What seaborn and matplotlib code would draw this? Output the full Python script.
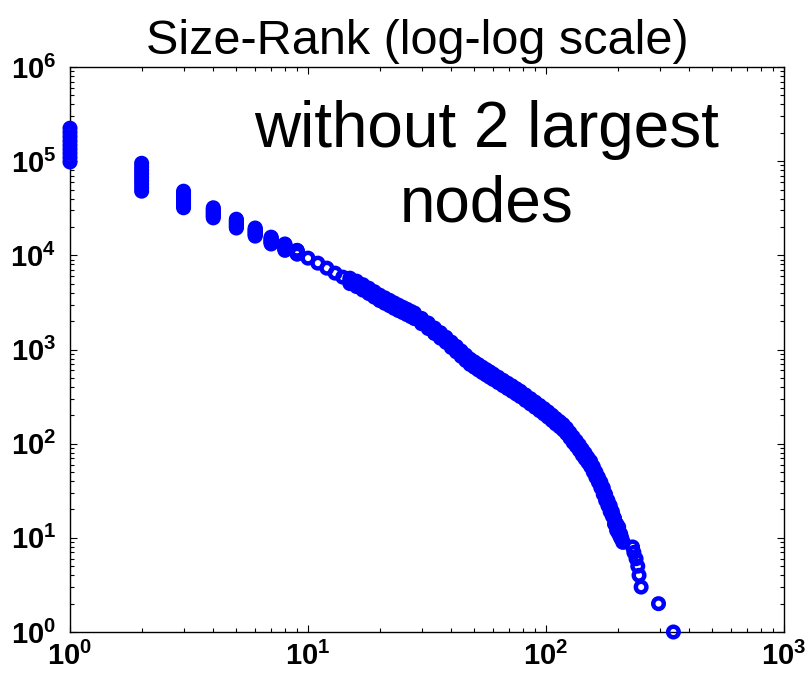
import matplotlib
matplotlib.use("Agg")
import matplotlib.pyplot as plt
from matplotlib.ticker import LogLocator, NullFormatter
import pandas as pd
import seaborn as sns

# Top nine ranks: size of the node at that rank in nine snapshots
head_ranks = [1, 2, 3, 4, 5, 6, 7, 8, 9]
snapshot_1 = [224000, 95000, 48000, 32000, 24200, 19500, 15600, 13200, 11300]
snapshot_2 = [202000, 87000, 45600, 31000, 23600, 19000, 15300, 12900, 11200]
snapshot_3 = [182000, 80000, 43400, 30100, 22900, 18500, 14900, 12700, 11100]
snapshot_4 = [164000, 73600, 41300, 29200, 22300, 18100, 14600, 12400, 10900]
snapshot_5 = [148000, 67600, 39200, 28300, 21700, 17600, 14300, 12200, 10800]
snapshot_6 = [134000, 62000, 37300, 27500, 21100, 17200, 14000, 12000, 10700]
snapshot_7 = [121000, 57000, 35400, 26600, 20600, 16800, 13700, 11700, 10600]
snapshot_8 = [109000, 52300, 33700, 25800, 20000, 16400, 13500, 11500, 10400]
snapshot_9 = [98000, 48000, 32000, 25000, 19500, 16000, 13200, 11300, 10300]

# Main body of the size-rank curve
body_ranks = [10, 11, 12, 13, 14, 15, 16, 17, 18, 19, 20, 21, 22, 23, 24, 25, 26, 27,
              28, 29, 30, 31, 32, 33, 34, 35, 36, 37, 38, 39, 40, 42, 44, 46, 48, 50,
              52, 54, 56, 58, 60, 62, 64, 66, 68, 70, 72, 74, 76, 78, 80, 83, 86, 89,
              92, 95, 98, 101, 104, 107, 110, 113, 116, 119, 122, 125, 128, 131, 134,
              137, 140, 143, 146, 149, 152, 155, 158, 160, 162, 164, 166, 168, 170,
              172, 174, 176, 178, 180, 182, 184, 186, 188, 190, 192, 194, 196, 198,
              200, 202, 204, 206, 208, 210]
body_sizes = [9340, 8260, 7310, 6470, 5870, 5450, 5070, 4650, 4270, 3910, 3600, 3370,
              3170, 2980, 2820, 2680, 2550, 2430, 2320, 2170, 2040, 1920, 1815, 1710,
              1610, 1520, 1435, 1360, 1290, 1215, 1145, 1025, 920, 830, 753, 704, 659,
              619, 584, 552, 523, 496, 472, 449, 428, 409, 391, 374, 359, 344, 328, 306,
              287, 269, 253, 238, 225, 212, 199, 187, 176, 167, 158, 149, 139, 128, 118,
              110, 102, 94, 87, 81, 75, 70, 65, 60, 54, 51, 47, 45, 42, 39, 37, 34, 32,
              29, 27, 25, 24, 22, 21, 19, 18, 17, 16, 14, 14, 13, 12, 11, 10, 10, 9]

# Upper and lower edges of the band traced by the other snapshots
edge_ranks = [15, 16, 17, 18, 19, 20, 21, 22, 23, 24, 25, 26, 27, 28, 30, 32, 34, 36,
              38, 40, 42, 44, 46, 48, 50, 52, 54, 56, 58, 60, 63, 66, 69, 72, 75, 78,
              82, 86, 90, 94, 98, 102, 106, 110, 114, 118, 122, 126, 130, 134, 138,
              142, 146, 150, 154, 158, 162, 166, 170, 174, 178, 182, 186, 190, 194,
              198, 202, 206]
upper_sizes = [5720, 5320, 4880, 4480, 4110, 3780, 3540, 3330, 3130, 2960, 2810, 2680,
               2550, 2440, 2140, 1910, 1690, 1510, 1350, 1200, 1080, 966, 872, 791,
               739, 692, 650, 613, 580, 549, 508, 471, 439, 411, 384, 361, 329, 301,
               277, 255, 236, 218, 201, 185, 172, 160, 146, 131, 118, 107, 97, 87, 79,
               71, 65, 57, 50, 44, 39, 34, 29, 25, 22, 19, 16, 14, 13, 11]
lower_sizes = [5010, 4660, 4280, 3930, 3600, 3310, 3100, 2920, 2740, 2590, 2470, 2350,
               2240, 2130, 1880, 1670, 1480, 1320, 1190, 1050, 943, 846, 764, 693, 648,
               606, 569, 537, 508, 481, 445, 413, 385, 360, 337, 316, 288, 264, 243,
               224, 207, 191, 176, 162, 151, 140, 128, 115, 103, 94, 85, 76, 69, 63,
               57, 50, 44, 39, 34, 29, 25, 22, 19, 17, 14, 12, 11, 10]

# Smallest nodes
tail_ranks = [211, 231, 234, 239, 243, 246, 251, 297, 343]
tail_sizes = [9, 8, 7, 6, 5, 4, 3, 2, 1]

x_ticks = [1, 10, 100, 1000]
x_tick_labels = [r"$\mathbf{10^{0}}$", r"$\mathbf{10^{1}}$",
                 r"$\mathbf{10^{2}}$", r"$\mathbf{10^{3}}$"]
y_ticks = [1, 10, 100, 1000, 10000, 100000, 1000000]
y_tick_labels = [r"$\mathbf{10^{0}}$", r"$\mathbf{10^{1}}$", r"$\mathbf{10^{2}}$",
                 r"$\mathbf{10^{3}}$", r"$\mathbf{10^{4}}$", r"$\mathbf{10^{5}}$",
                 r"$\mathbf{10^{6}}$"]
title_text = "Size-Rank (log-log scale)"
note_lines = ["without 2 largest", "nodes"]

# Long-format table of every (rank, size) point
ranks, sizes = [], []
for snap in (snapshot_1, snapshot_2, snapshot_3, snapshot_4, snapshot_5,
             snapshot_6, snapshot_7, snapshot_8, snapshot_9):
    ranks += head_ranks
    sizes += snap
ranks += body_ranks + edge_ranks + edge_ranks + tail_ranks
sizes += body_sizes + upper_sizes + lower_sizes + tail_sizes
df = pd.DataFrame({"rank": ranks, "size": sizes})

sns.set_theme(style="ticks")
plt.rcParams["font.family"] = ["Liberation Sans", "DejaVu Sans"]
plt.rcParams["mathtext.fontset"] = "custom"
plt.rcParams["mathtext.rm"] = "Liberation Sans"
plt.rcParams["mathtext.bf"] = "Liberation Sans:bold"

fig = plt.figure(figsize=(8.07, 6.77), dpi=100)
ax = fig.add_axes([70 / 807, 45 / 677, 714 / 807, 565 / 677])

blue = "#0000ff"
sns.scatterplot(data=df, x="rank", y="size", ax=ax, marker="o", s=58,
                color=blue, facecolor="none", edgecolor=blue, linewidth=3.2,
                legend=False, clip_on=False, zorder=3)

ax.set_xscale("log")
ax.set_yscale("log")
ax.set_xlim(1, 1000)
ax.set_ylim(1, 1e6)
ax.set_xticks(x_ticks)
ax.set_xticklabels(x_tick_labels)
ax.set_yticks(y_ticks)
ax.set_yticklabels(y_tick_labels)
ax.xaxis.set_minor_locator(LogLocator(base=10, subs=range(2, 10)))
ax.yaxis.set_minor_locator(LogLocator(base=10, subs=range(2, 10)))
ax.xaxis.set_minor_formatter(NullFormatter())
ax.yaxis.set_minor_formatter(NullFormatter())
ax.tick_params(which="both", direction="in", top=True, right=True,
               color="black", width=0.8)
ax.tick_params(which="major", length=5, labelsize=21, labelcolor="black")
ax.tick_params(which="minor", length=3)
ax.tick_params(axis="x", which="major", pad=7)
ax.tick_params(axis="y", which="major", pad=10)
for spine in ax.spines.values():
    spine.set_color("black")
    spine.set_linewidth(1.0)
ax.set_xlabel("")
ax.set_ylabel("")
ax.grid(False)

ax.set_title(title_text, fontsize=35, pad=9, color="black", x=0.487)
ax.text(0.583, 0.858, note_lines[0], transform=ax.transAxes, ha="center",
        va="baseline", fontsize=46, color="black")
ax.text(0.583, 0.727, note_lines[1], transform=ax.transAxes, ha="center",
        va="baseline", fontsize=46, color="black")

fig.savefig("out.png", dpi=100, facecolor="white")
